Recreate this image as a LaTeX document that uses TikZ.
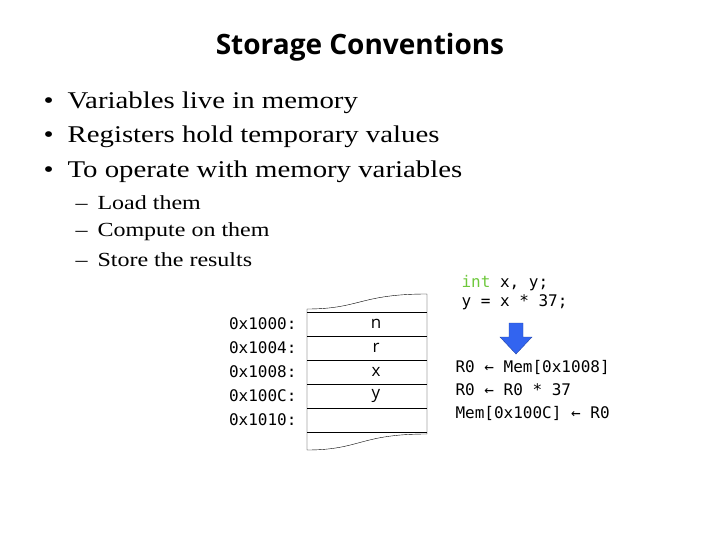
\documentclass[tikz,border=0pt]{standalone}
\usepackage{fontspec}
\setmainfont{Liberation Serif}[FakeStretch=1.2]
\setsansfont{Open Sans}
\setmonofont{DejaVu Sans Mono}
\usepackage{tikz}
\definecolor{codegreen}{RGB}{110,200,60}
\definecolor{arrowblue}{RGB}{50,100,240}

\begin{document}
\begin{tikzpicture}[x=1pt,y=-1pt,
            bullet/.style={anchor=west, font=\fontsize{24}{28}\selectfont},
            subitem/.style={anchor=west, font=\fontsize{20}{24}\selectfont},
            addr/.style={anchor=east, font=\ttfamily\fontsize{16}{18}\selectfont},
            cell/.style={font=\fontsize{17}{19}\selectfont\sffamily},
            code/.style={anchor=west, font=\ttfamily\fontsize{16}{18}\selectfont}
        ]
        \useasboundingbox (0,0) rectangle (720,540);
        % Title
        \node[font=\sffamily\bfseries\fontsize{28}{32}\selectfont] (title) at (360,47) {Storage Conventions};
        % Bullets
        \foreach \t/\y [count=\i] in {Variables live in memory/103, Registers hold temporary values/137, To operate with memory variables/172} {
            \node[bullet] (b\i) at (40,\y) {\textbullet\hspace{14pt}\t};
        }
        \foreach \t/\y [count=\i] in {Load them/203, Compute on them/232, Store the results/260} {
            \node[subitem] (s\i) at (72,\y) {--\hspace{10pt}\t};
        }
        % Memory
        \draw (307,309) .. controls (360,309) and (360,294) .. (427,294) -- (427,434)
              .. controls (360,434) and (360,450) .. (307,450) -- cycle;
        \foreach \y in {312,336,360,384,408,432} {
            \draw (307,\y) -- (427,\y);
        }
        \foreach \a/\v [count=\i] in {1000/n,1004/r,1008/x,100C/y,1010/} {
            \node[addr] (a\i) at (300,300+24*\i) {0x\a:};
            \node[cell] (m\i) at (376,300+24*\i) {\v};
        }
        % Code
        \node[code] (c1) at (458,283) {\textcolor{codegreen}{int} x, y;};
        \node[code] (c2) at (458,302) {y = x * 37;};
        \filldraw[fill=arrowblue, draw=arrowblue!70!black]
            (509,323) -- (523,323) -- (523,337) -- (532,337) -- (516,354)
            -- (500,337) -- (509,337) -- cycle;
        \node[code] (r1) at (452,367) {R0 ← Mem[0x1008]};
        \node[code] (r2) at (452,390) {R0 ← R0 * 37};
        \node[code] (r3) at (452,413) {Mem[0x100C] ← R0};
    \end{tikzpicture}
\end{document}
